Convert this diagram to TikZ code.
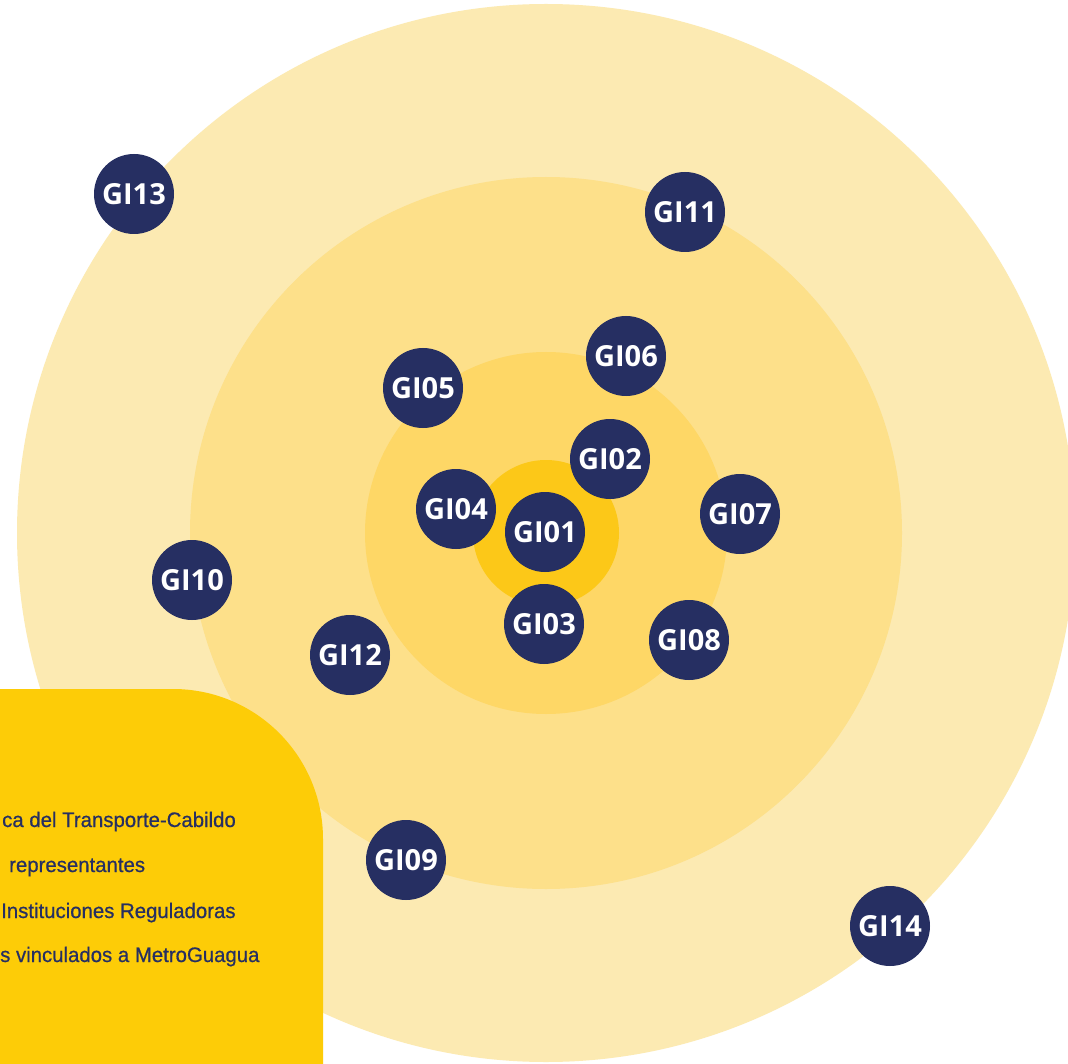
\documentclass[tikz,border=0pt]{standalone}
\usepackage{fontspec}
\setmainfont{Open Sans}
\newfontfamily\boxfont[FakeStretch=0.97,FakeBold=0.6]{Liberation Sans}
\definecolor{ringA}{RGB}{252,234,178}
\definecolor{ringB}{RGB}{253,224,138}
\definecolor{ringC}{RGB}{254,215,102}
\definecolor{ringD}{RGB}{252,200,24}
\definecolor{boxyellow}{RGB}{253,204,7}
\definecolor{navy}{RGB}{38,47,98}
\tikzset{
  gi/.style={circle, fill=navy, minimum size=80pt, inner sep=0pt, text=white, font=\fontsize{29}{29}\selectfont\bfseries},
  boxtext/.style={anchor=base west, inner sep=0pt, text=navy, font=\boxfont\fontsize{21}{21}\selectfont}
}
\begin{document}
\begin{tikzpicture}[x=1pt,y=-1pt]
\useasboundingbox (0,0) rectangle (1068,1064);
\clip (0,0) rectangle (1068,1064);
\fill[white] (0,0) rectangle (1068,1064);
\coordinate (c) at (546,533);
\fill[ringA] (c) circle (529);
\fill[ringB] (c) circle (356);
\fill[ringC] (c) circle (181);
\fill[ringD] (c) circle (73);
% legend box
\fill[boxyellow] (-20,689) -- (173,689) arc (-90:0:150) -- (323,1090) -- (-20,1090) -- cycle;
\node[boxtext] (t1) at (2,827) {ca del Transporte-Cabildo};
\node[boxtext] (t2) at (9,872) {representantes};
\node[boxtext] (t3) at (1,918) {Instituciones Reguladoras};
\node[boxtext] (t4) at (0,962) {s vinculados a MetroGuagua};
% nodes
\node[gi] (gi13) at (134,194) {GI13};
\node[gi] (gi11) at (685,212) {GI11};
\node[gi] (gi06) at (626,356) {GI06};
\node[gi] (gi05) at (423,388) {GI05};
\node[gi] (gi02) at (610,459) {GI02};
\node[gi] (gi04) at (456,509) {GI04};
\node[gi] (gi07) at (740,514) {GI07};
\node[gi] (gi01) at (545,532) {GI01};
\node[gi] (gi10) at (192,580) {GI10};
\node[gi] (gi03) at (544,624) {GI03};
\node[gi] (gi08) at (689,640) {GI08};
\node[gi] (gi12) at (350,655) {GI12};
\node[gi] (gi09) at (406,860) {GI09};
\node[gi] (gi14) at (890,926) {GI14};
\end{tikzpicture}
\end{document}
